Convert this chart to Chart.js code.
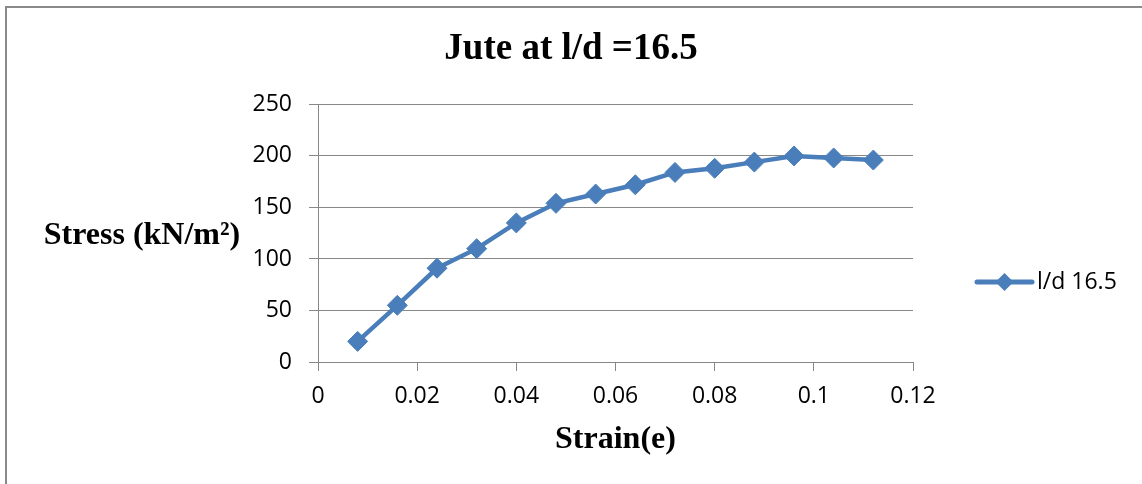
<!DOCTYPE html>
<html>
<head>
<meta charset="utf-8">
<script src="https://cdn.jsdelivr.net/npm/chart.js@4"></script>
<style>
  html, body { margin: 0; padding: 0; background: #fff; overflow: hidden; }
  #wrap { position: relative; width: 1142px; height: 484px; }
  #frame { position: absolute; left: 5px; top: 6px; width: 1200px; height: 600px;
           border-left: 2px solid #8a8a8a; border-top: 2px solid #8a8a8a; }
  #chart { position: absolute; left: 0; top: 0; }
</style>
</head>
<body>
<div id="wrap">
  <div id="frame"></div>
  <canvas id="chart" width="1142" height="484"></canvas>
</div>
<script>
// ── Datos ─────────────────────────────────────────────────────────────────
var strain = [0.008, 0.016, 0.024, 0.032, 0.040, 0.048, 0.056, 0.064, 0.072, 0.080, 0.088, 0.096, 0.104, 0.112];
var stress = [20, 55, 91, 110, 135, 154, 163, 172, 184, 188, 194, 200, 198, 196];
var xTicks = [0, 0.02, 0.04, 0.06, 0.08, 0.1, 0.12];
var yTicks = [0, 50, 100, 150, 200, 250];
var seriesName = 'l/d 16.5';

var BLUE = '#4A7EBB';
var GRID = '#878787';
var TICK_FONT = { family: '"Open Sans", sans-serif', size: 23 };
var SERIF = '"Liberation Serif", "Times New Roman", serif';

// ── Título eje Y (horizontal, como Excel) ──────────────────────────────────
var yTitlePlugin = {
    id: 'yTitle',
    afterDraw: function (chart) {
        var ctx = chart.ctx;
        ctx.save();
        ctx.fillStyle = '#000';
        ctx.font = 'bold 32px ' + SERIF;
        ctx.textAlign = 'center';
        ctx.textBaseline = 'middle';
        ctx.fillText('Stress (kN/m\u00B2)', 142, 236);
        ctx.restore();
    }
};

// ── Leyenda (línea + rombo) ────────────────────────────────────────────────
var legendPlugin = {
    id: 'lineLegend',
    afterDraw: function (chart) {
        var ctx = chart.ctx;
        var x0 = chart.chartArea.right + 64, y = 282;
        ctx.save();
        ctx.strokeStyle = BLUE;
        ctx.lineWidth = 5;
        ctx.lineCap = 'round';
        ctx.beginPath();
        ctx.moveTo(x0, y);
        ctx.lineTo(x0 + 55, y);
        ctx.stroke();
        ctx.fillStyle = BLUE;
        ctx.beginPath();
        ctx.moveTo(x0 + 27.5, y - 9);
        ctx.lineTo(x0 + 36.5, y);
        ctx.lineTo(x0 + 27.5, y + 9);
        ctx.lineTo(x0 + 18.5, y);
        ctx.closePath();
        ctx.fill();
        ctx.fillStyle = '#000';
        ctx.font = TICK_FONT.size + 'px ' + TICK_FONT.family;
        ctx.textAlign = 'left';
        ctx.textBaseline = 'middle';
        ctx.fillText(seriesName, x0 + 60, y);
        ctx.restore();
    }
};

new Chart(document.getElementById('chart').getContext('2d'), {
    type: 'scatter',
    data: {
        datasets: [{
            label: seriesName,
            data: strain.map(function (s, i) { return { x: s, y: stress[i] }; }),
            showLine: true,
            borderColor: BLUE,
            backgroundColor: BLUE,
            borderWidth: 4.5,
            pointStyle: 'rectRot',
            pointRadius: 10,
            pointHoverRadius: 10,
            pointBorderWidth: 1,
            tension: 0
        }]
    },
    options: {
        responsive: false,
        animation: false,
        layout: { padding: 0 },
        plugins: {
            legend: { display: false },
            tooltip: { enabled: false },
            title: {
                display: true,
                text: 'Jute at l/d =16.5',
                color: '#000',
                font: { family: SERIF, size: 37, weight: 'bold' },
                padding: { top: 27, bottom: 33 }
            }
        },
        scales: {
            x: {
                type: 'linear',
                min: 0,
                max: 0.12,
                afterBuildTicks: function (s) { s.ticks = xTicks.map(function (v) { return { value: v }; }); },
                afterFit: function (s) { s.height = 122; },
                ticks: {
                    color: '#000',
                    font: TICK_FONT,
                    padding: 12,
                    maxRotation: 0,
                    callback: function (v) { return String(Number(v.toFixed(2))); }
                },
                grid: { drawOnChartArea: false, drawTicks: true, tickLength: 9, color: GRID },
                border: { display: true, color: GRID, width: 1 },
                title: {
                    display: true,
                    text: 'Strain(e)',
                    color: '#000',
                    font: { family: SERIF, size: 32, weight: 'bold' },
                    padding: { top: 0, bottom: 25 }
                }
            },
            y: {
                min: 0,
                max: 250,
                afterBuildTicks: function (s) { s.ticks = yTicks.map(function (v) { return { value: v }; }); },
                afterFit: function (s) { s.width = 318; },
                ticks: { color: '#000', font: TICK_FONT, padding: 17 },
                grid: { drawTicks: true, tickLength: 9, color: GRID, lineWidth: 1 },
                border: { display: true, color: GRID, width: 1 }
            },
            // espacio reservado para la leyenda a la derecha
            yLegend: {
                position: 'right',
                afterFit: function (s) { s.width = 229; },
                ticks: { display: false },
                grid: { display: false },
                border: { display: false }
            }
        }
    },
    plugins: [yTitlePlugin, legendPlugin]
});
</script>
</body>
</html>
